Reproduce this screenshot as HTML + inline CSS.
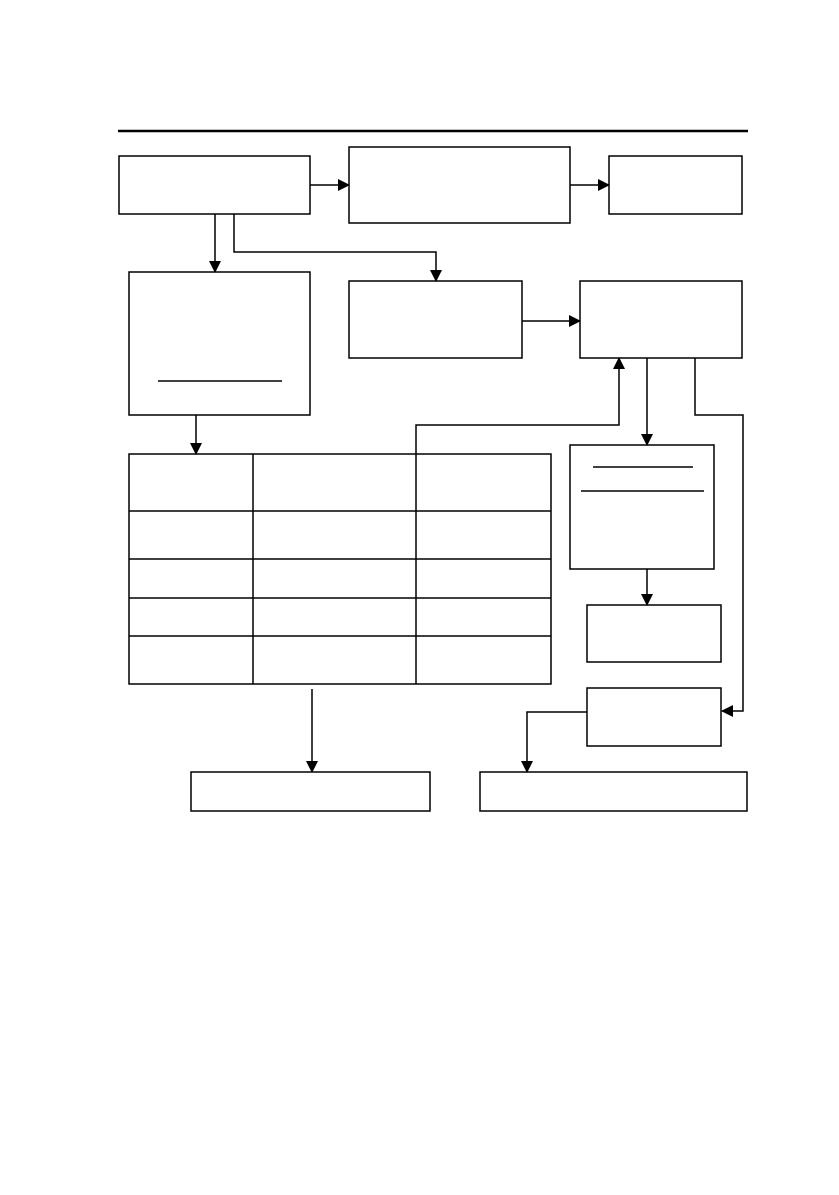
<!DOCTYPE html>
<html><head><meta charset="utf-8"><style>html,body{margin:0;padding:0;background:#fff}</style></head>
<body>
<svg width="839" height="1190" xmlns="http://www.w3.org/2000/svg">
<defs><marker id="a" markerWidth="12" markerHeight="12" refX="11" refY="6" orient="auto" markerUnits="userSpaceOnUse"><path d="M0,0 L12,6 L0,12 z" fill="#000"/></marker></defs>
<g fill="none" stroke="#000" stroke-width="1.5">
<line x1="118" y1="131" x2="748" y2="131" stroke-width="2.5"/>
<rect x="119" y="156" width="191" height="58"/>
<rect x="349" y="147" width="221" height="76"/>
<rect x="609" y="156" width="133" height="58"/>
<line x1="310" y1="185" x2="349" y2="185" marker-end="url(#a)"/>
<line x1="570" y1="185" x2="609" y2="185" marker-end="url(#a)"/>
<line x1="215" y1="214" x2="215" y2="272" marker-end="url(#a)"/>
<polyline points="234,214 234,252 436,252 436,281" marker-end="url(#a)"/>
<rect x="129" y="272" width="181" height="143"/>
<line x1="158" y1="381" x2="282" y2="381"/>
<rect x="349" y="281" width="173" height="77"/>
<line x1="522" y1="321" x2="580" y2="321" marker-end="url(#a)"/>
<rect x="580" y="281" width="162" height="77"/>
<line x1="647" y1="358" x2="647" y2="445" marker-end="url(#a)"/>
<polyline points="695,358 695,415 743,415 743,711 722,711" marker-end="url(#a)"/>
<line x1="196" y1="415" x2="196" y2="454" marker-end="url(#a)"/>
<rect x="129" y="454" width="422" height="230"/>
<line x1="253" y1="454" x2="253" y2="684"/>
<line x1="416" y1="454" x2="416" y2="684"/>
<line x1="129" y1="511" x2="551" y2="511"/>
<line x1="129" y1="559" x2="551" y2="559"/>
<line x1="129" y1="598" x2="551" y2="598"/>
<line x1="129" y1="636" x2="551" y2="636"/>
<polyline points="416,454 416,425 619,425 619,358" marker-end="url(#a)"/>
<rect x="570" y="445" width="144" height="124"/>
<line x1="593" y1="467" x2="693" y2="467"/>
<line x1="581" y1="491" x2="704" y2="491"/>
<line x1="647" y1="569" x2="647" y2="605" marker-end="url(#a)"/>
<rect x="587" y="605" width="134" height="57"/>
<rect x="587" y="688" width="134" height="58"/>
<polyline points="587,712 527,712 527,772" marker-end="url(#a)"/>
<line x1="312" y1="689" x2="312" y2="772" marker-end="url(#a)"/>
<rect x="191" y="772" width="239" height="39"/>
<rect x="480" y="772" width="267" height="39"/>
</g>
</svg>
</body></html>
